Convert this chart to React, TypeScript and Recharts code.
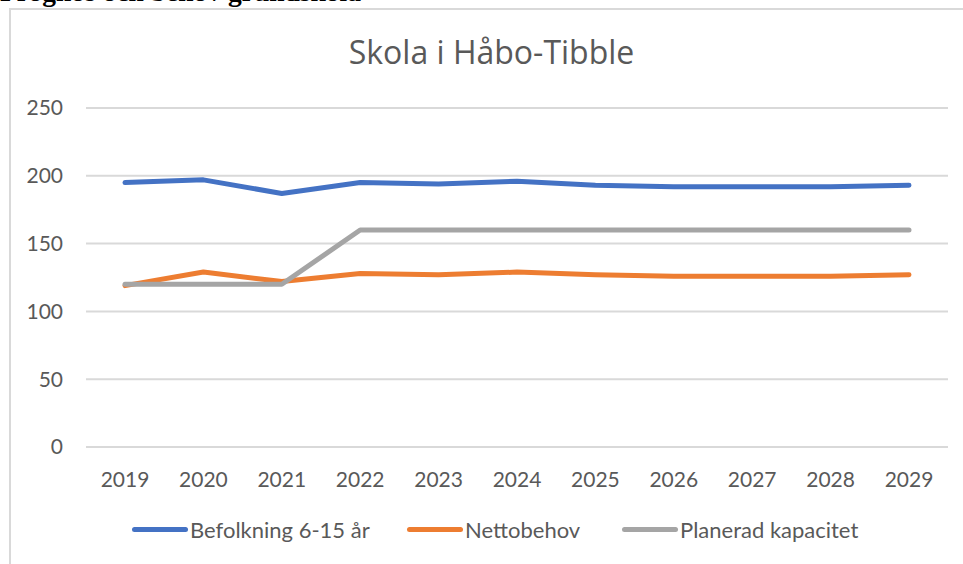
import { LineChart, Line, XAxis, YAxis, CartesianGrid, Legend } from 'recharts';

// Skola i Håbo-Tibble: population vs net need vs planned capacity
const years = ['2019', '2020', '2021', '2022', '2023', '2024', '2025', '2026', '2027', '2028', '2029'];
const befolkning = [195, 197, 187, 195, 194, 196, 193, 192, 192, 192, 193];
const nettobehov = [119, 129, 122, 128, 127, 129, 127, 126, 126, 126, 127];
const kapacitet = [120, 120, 120, 160, 160, 160, 160, 160, 160, 160, 160];
const yTicks = [0, 50, 100, 150, 200, 250];

const series = [
  { key: 'befolkning', name: 'Befolkning 6-15 år', color: '#4472C4' },
  { key: 'nettobehov', name: 'Nettobehov', color: '#ED7D31' },
  { key: 'kapacitet', name: 'Planerad kapacitet', color: '#A5A5A5' },
];

const data = years.map((year, i) => ({
  year,
  befolkning: befolkning[i],
  nettobehov: nettobehov[i],
  kapacitet: kapacitet[i],
}));

const FONT = 'Lato, "Open Sans", sans-serif';
const TEXT = '#595959';

// left edge of each legend entry, relative to the chart
const legendLeft = [122, 397, 612];

/** Excel-style legend: short thick line followed by the label */
function ExcelLegend({ payload }: { payload?: any[] }) {
  return (
    <div style={{ position: 'relative', height: 30, fontFamily: FONT, fontSize: 22, color: TEXT }}>
      {(payload || []).map((item, i) => (
        <div
          key={item.value}
          style={{
            position: 'absolute',
            left: legendLeft[i],
            top: 0,
            display: 'flex',
            alignItems: 'center',
            whiteSpace: 'nowrap',
          }}
        >
          <span
            style={{
              display: 'inline-block',
              width: 56,
              height: 5,
              borderRadius: 3,
              background: item.color,
              marginRight: 2,
            }}
          />
          <span>{item.value}</span>
        </div>
      ))}
    </div>
  );
}

export default function App() {
  return (
    <div style={{ position: 'fixed', left: 0, top: 0, width: 963, height: 564, overflow: 'hidden', background: '#fff' }}>
      <div
        style={{
          position: 'absolute',
          left: 0,
          top: -22,
          fontFamily: '"Liberation Serif", serif',
          fontWeight: 'bold',
          fontSize: 27.5,
          lineHeight: '28px',
          color: '#000',
          whiteSpace: 'nowrap',
        }}
      >
        Prognos och behov grundskola
      </div>
      <div
        style={{
          position: 'absolute',
          left: 9,
          top: 8,
          width: 960,
          height: 560,
          borderTop: '2px solid #d9d9d9',
          borderLeft: '2px solid #d9d9d9',
        }}
      />
      <div
        style={{
          position: 'absolute',
          left: 0,
          top: 30,
          width: 983,
          textAlign: 'center',
          fontFamily: '"Open Sans", sans-serif',
          fontSize: 32,
          color: TEXT,
          pointerEvents: 'none',
        }}
      >
        Skola i Håbo-Tibble
      </div>
      <div style={{ position: 'absolute', left: 10, top: 9 }}>
        <LineChart width={953} height={555} data={data} margin={{ top: 99, right: 15, left: 0, bottom: 0 }}>
          <CartesianGrid vertical={false} stroke="#d9d9d9" strokeWidth={2} />
          <XAxis
            dataKey="year"
            axisLine={false}
            tickLine={false}
            tickSize={0}
            tickMargin={25}
            padding={{ left: 39, right: 39 }}
            height={87}
            interval={0}
            tick={{ fill: TEXT, fontSize: 21, fontFamily: FONT }}
          />
          <YAxis
            domain={[0, 250]}
            ticks={yTicks}
            axisLine={false}
            tickLine={false}
            tickSize={0}
            tickMargin={23}
            width={76}
            interval={0}
            tick={{ fill: TEXT, fontSize: 21, fontFamily: FONT }}
          />
          <Legend
            content={<ExcelLegend />}
            wrapperStyle={{ position: 'absolute', top: 507, left: 0, width: 953 }}
          />
          {series.map((s) => (
            <Line
              key={s.key}
              dataKey={s.key}
              name={s.name}
              stroke={s.color}
              strokeWidth={5}
              strokeLinecap="round"
              strokeLinejoin="round"
              dot={false}
              activeDot={false}
              isAnimationActive={false}
            />
          ))}
        </LineChart>
      </div>
    </div>
  );
}
